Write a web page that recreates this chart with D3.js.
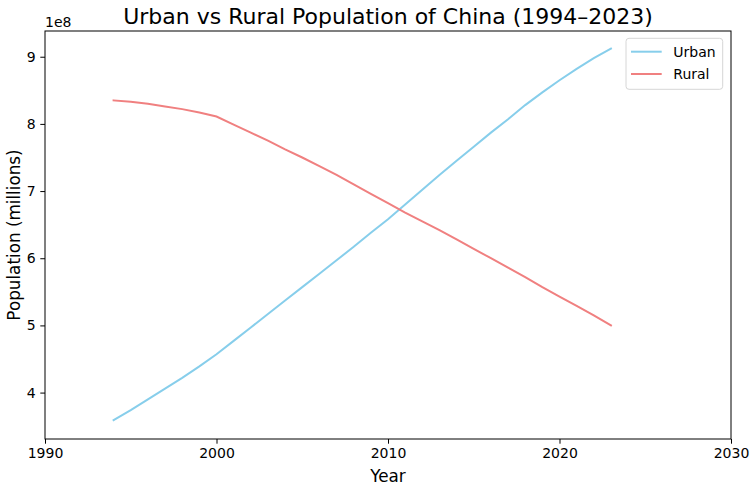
<!DOCTYPE html>
<html>
<head>
<meta charset="utf-8">
<style>
  body { margin: 0; background: #fff; }
  svg text { font-family: "DejaVu Sans", sans-serif; }
</style>
</head>
<body>
<div id="chart"></div>

<script src="https://d3js.org/d3.v7.min.js"></script>
<script>
    const years = d3.range(1994, 2024);

    // population in units of 1e8
    const urban = [3.59, 3.74, 3.90, 4.06, 4.22, 4.39, 4.57, 4.77, 4.97, 5.17,
                   5.37, 5.57, 5.77, 5.97, 6.17, 6.38, 6.58, 6.80, 7.02, 7.24,
                   7.45, 7.66, 7.87, 8.07, 8.28, 8.47, 8.65, 8.82, 8.98, 9.12];
    const rural = [8.35, 8.33, 8.30, 8.26, 8.22, 8.17, 8.11, 7.99, 7.87, 7.75,
                   7.62, 7.50, 7.37, 7.24, 7.10, 6.96, 6.82, 6.68, 6.55, 6.42,
                   6.28, 6.14, 6.00, 5.86, 5.72, 5.57, 5.43, 5.29, 5.15, 5.00];

    const xTicks = [1990, 2000, 2010, 2020, 2030];
    const yTicks = [4, 5, 6, 7, 8, 9];

    const seriesNames = ["Urban", "Rural"];
    const seriesColors = ["#87CEEB", "#F08080"];

    const width = 751;
    const height = 489;
    const margin = { top: 31, right: 20, bottom: 50, left: 45 };

    const svg = d3.select("#chart")
        .append("svg")
        .attr("width", width)
        .attr("height", height);

    const x = d3.scaleLinear()
        .domain([1990, 2030])
        .range([margin.left, width - margin.right]);

    const y = d3.scaleLinear()
        .domain([3.309, 9.383])
        .range([height - margin.bottom, margin.top]);

    // lines
    const line = d3.line()
        .x((d, i) => x(years[i]))
        .y(d => y(d));

    [urban, rural].forEach((s, k) => {
        svg.append("path")
            .datum(s)
            .attr("fill", "none")
            .attr("stroke", seriesColors[k])
            .attr("stroke-width", 2)
            .attr("stroke-linecap", "square")
            .attr("d", line);
    });

    // axes
    const xAxis = svg.append("g")
        .attr("transform", `translate(0,${height - margin.bottom})`)
        .call(d3.axisBottom(x).tickValues(xTicks).tickFormat(d3.format("d"))
            .tickSize(4.7).tickPadding(4.7));

    const yAxis = svg.append("g")
        .attr("transform", `translate(${margin.left},0)`)
        .call(d3.axisLeft(y).tickValues(yTicks).tickFormat(d3.format("d"))
            .tickSize(4.7).tickPadding(4.7));

    [xAxis, yAxis].forEach(g => {
        g.select(".domain").remove();
        g.selectAll(".tick line").attr("stroke", "#000").attr("stroke-width", 1);
        g.selectAll(".tick text")
            .attr("fill", "#000")
            .style("font-size", "14px")
            .style("font-family", "DejaVu Sans");
    });

    // frame
    svg.append("rect")
        .attr("x", margin.left)
        .attr("y", margin.top)
        .attr("width", width - margin.left - margin.right)
        .attr("height", height - margin.top - margin.bottom)
        .attr("fill", "none")
        .attr("stroke", "#000")
        .attr("stroke-width", 1);

    // offset text
    svg.append("text")
        .attr("x", margin.left)
        .attr("y", 27)
        .attr("font-size", "14px")
        .text("1e8");

    // title and labels
    svg.append("text")
        .attr("x", (margin.left + width - margin.right) / 2)
        .attr("y", 24)
        .attr("text-anchor", "middle")
        .attr("font-size", "22px")
        .text("Urban vs Rural Population of China (1994–2023)");

    svg.append("text")
        .attr("x", (margin.left + width - margin.right) / 2)
        .attr("y", 481.5)
        .attr("text-anchor", "middle")
        .attr("font-size", "16.8px")
        .text("Year");

    svg.append("text")
        .attr("transform", `translate(19.5,${(margin.top + height - margin.bottom) / 2}) rotate(-90)`)
        .attr("text-anchor", "middle")
        .attr("font-size", "16.8px")
        .text("Population (millions)");

    // legend
    const legend = svg.append("g");
    legend.append("rect")
        .attr("x", 626)
        .attr("y", 38.3)
        .attr("width", 96.7)
        .attr("height", 51)
        .attr("rx", 3)
        .attr("fill", "#fff")
        .attr("fill-opacity", 0.8)
        .attr("stroke", "#d6d6d6")
        .attr("stroke-width", 1);

    seriesNames.forEach((name, k) => {
        const ly = 51.7 + k * 22.3;
        legend.append("line")
            .attr("x1", 631).attr("x2", 661.7)
            .attr("y1", ly).attr("y2", ly)
            .attr("stroke", seriesColors[k])
            .attr("stroke-width", 2);
        legend.append("text")
            .attr("x", 673.3)
            .attr("y", ly + 5)
            .attr("font-size", "14px")
            .text(name);
    });
</script>
</body>
</html>
